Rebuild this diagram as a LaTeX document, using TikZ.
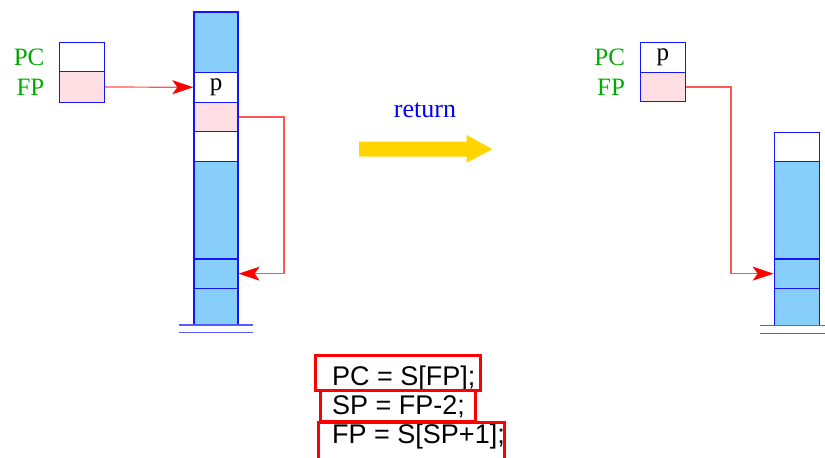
\documentclass[tikz,border=0pt]{standalone}
\usepackage{fontspec}
\setmainfont{Liberation Serif}
\newfontfamily\codefont{Liberation Sans}
\usetikzlibrary{arrows.meta}

\definecolor{stackblue}{RGB}{135,206,250}
\definecolor{cellline}{RGB}{20,20,255}
\definecolor{groundline}{RGB}{90,90,255}
\definecolor{framepink}{RGB}{255,222,228}
\definecolor{labelgreen}{RGB}{0,170,0}
\definecolor{ptrred}{RGB}{255,85,85}
\definecolor{movegold}{RGB}{255,213,0}
\definecolor{stmtred}{RGB}{255,0,0}

\tikzset{
  cell/.style={draw=cellline, line width=1.3pt, minimum width=44pt, inner sep=0pt,
               font=\fontsize{25}{25}\selectfont},
  bluecell/.style={cell, fill=stackblue},
  pinkcell/.style={cell, fill=framepink},
  whitecell/.style={cell, fill=white},
  reglabel/.style={text=labelgreen, inner sep=0pt, anchor=east, font=\fontsize{25}{25}\selectfont},
  ptr/.style={draw=ptrred, line width=1.2pt,
              -{Stealth[length=21pt,width=14pt,inset=5pt,color=red]}},
  ground/.style={draw=groundline, line width=1.2pt},
  stmt/.style={inner sep=0pt, anchor=base west, font=\codefont\fontsize{27}{27}\selectfont},
  stmtframe/.style={draw=stmtred, line width=3pt}
}

\begin{document}
\begin{tikzpicture}[x=1pt,y=-1pt]
\useasboundingbox (0,0) rectangle (825,458);
\clip (0,0) rectangle (825,458);

% ---- before: registers ----
\node[whitecell, minimum width=44.6pt, minimum height=29.4pt] (LPC) at (82,57) {};
\node[pinkcell, minimum width=44.6pt, minimum height=30.6pt] (LFP) at (82,87) {};
\node[reglabel] (LPClbl) at ([xshift=-14.5pt]LPC.west) {PC};
\node[reglabel] (LFPlbl) at ([xshift=-14.5pt]LFP.west) {FP};

% ---- before: stack ----
\node[bluecell,  minimum height=60.3pt] (L1) at (216,42.2) {};
\node[whitecell, minimum height=30pt]   (L2) at (216,87.3) {p};
\node[pinkcell,  minimum height=29.4pt] (L3) at (216,117) {};
\node[whitecell, minimum height=30pt]   (L4) at (216,146.7) {};
\node[bluecell,  minimum height=97.3pt] (L5) at (216,210.35) {};
\node[bluecell,  minimum height=29.3pt] (L6) at (216,273.65) {};
\node[bluecell,  minimum height=36.7pt] (L7) at (216,306.65) {};
\draw[ground] (179,325) -- (253,325);
\draw[ground] (179,332.3) -- (253,332.3);

\draw[ptr] (LFP.east) -- (L2.west);
\draw[ptr] (L3.east) -- ++(45.3,0) |- (L6.east);

% ---- transition ----
\node[text=blue, inner sep=0pt, font=\fontsize{26}{26}\selectfont] (ret) at (425,110) {return};
\fill[movegold] (359,141.7) -- (466.7,141.7) -- (466.7,135) -- (492.3,149.2)
  -- (466.7,162.7) -- (466.7,156.7) -- (359,156.7) -- cycle;

% ---- after: registers ----
\node[whitecell, minimum width=45pt, minimum height=30pt] (RPC) at (662.8,57.3) {p};
\node[pinkcell, minimum width=45pt, minimum height=29.4pt] (RFP) at (662.8,87) {};
\node[reglabel] (RPClbl) at ([xshift=-14.5pt]RPC.west) {PC};
\node[reglabel] (RFPlbl) at ([xshift=-14.5pt]RFP.west) {FP};

% ---- after: stack ----
\node[whitecell, minimum width=45pt, minimum height=29.4pt] (R1) at (796.8,147) {};
\node[bluecell,  minimum width=45pt, minimum height=97.3pt] (R2) at (796.8,210.35) {};
\node[bluecell,  minimum width=45pt, minimum height=29.3pt] (R3) at (796.8,273.65) {};
\node[bluecell,  minimum width=45pt, minimum height=37.4pt] (R4) at (796.8,307) {};
\draw[ground] (760,325.7) -- (830,325.7);
\draw[ground] (760,333.3) -- (830,333.3);

\draw[ptr] (RFP.east) -- ++(45,0) |- (R3.west);

% ---- statements ----
\node[stmt] (code1) at (332,385) {PC = S[FP];};
\node[stmt] (code2) at (332,414) {SP = FP-2;};
\node[stmt] (code3) at (332,443) {FP = S[SP+1];};
\draw[stmtframe] (315.7,355) rectangle (480,390);
\draw[stmtframe] (320,390) rectangle (475.7,421.7);
\draw[stmtframe] (318.3,422.7) rectangle (504,470);
\end{tikzpicture}
\end{document}
